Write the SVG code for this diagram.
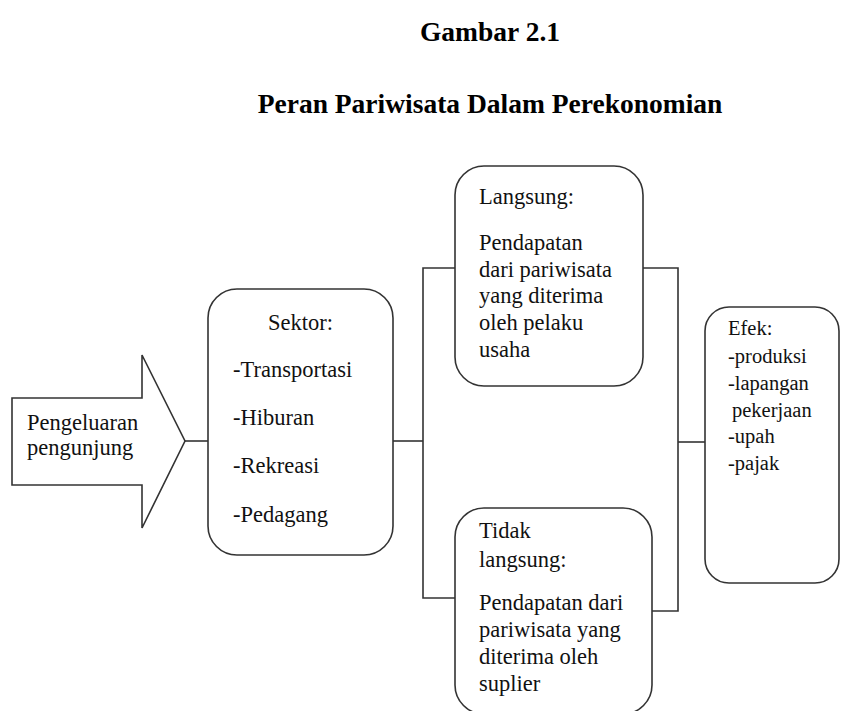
<svg xmlns="http://www.w3.org/2000/svg" width="841" height="711" viewBox="0 0 841 711">
<style>
.t{font-family:'Liberation Serif',Tinos,'Times New Roman','DejaVu Serif',serif;font-size:22.5px;fill:#111}
.e{font-family:'Liberation Serif',Tinos,'Times New Roman','DejaVu Serif',serif;font-size:20.5px;fill:#111}
.h{font-family:'Liberation Serif',Tinos,'Times New Roman','DejaVu Serif',serif;font-size:27.5px;font-weight:bold;fill:#000;text-anchor:middle}
.s{fill:#fff;stroke:#333;stroke-width:1.6}
.c{fill:none;stroke:#333;stroke-width:1.6}
</style>
<rect width="841" height="711" fill="#fff"/>
<text class="h" x="490" y="41">Gambar 2.1</text>
<text class="h" x="490" y="113">Peran Pariwisata Dalam Perekonomian</text>
<g id="connectors">
<line class="c" x1="185" y1="441" x2="208" y2="441"/>
<line class="c" x1="393" y1="441" x2="423" y2="441"/>
<polyline class="c" points="455,268 423,268 423,598 455,598"/>
<polyline class="c" points="643,268 678,268 678,611 652,611"/>
<line class="c" x1="678" y1="442" x2="705" y2="442"/>
</g>
<g id="pengeluaran">
<polygon class="s" points="12,398 142,398 142,355 185,441 142,528 142,485 12,485"/>
<text class="t" x="27" y="430">Pengeluaran</text>
<text class="t" x="27" y="455">pengunjung</text>
</g>
<g id="sektor">
<rect class="s" x="208" y="289" width="185" height="266" rx="29" ry="29"/>
<text class="t" x="300.5" y="330" text-anchor="middle">Sektor:</text>
<text class="t" x="233" y="377">-Transportasi</text>
<text class="t" x="233" y="425">-Hiburan</text>
<text class="t" x="233" y="473">-Rekreasi</text>
<text class="t" x="233" y="522">-Pedagang</text>
</g>
<g id="langsung">
<rect class="s" x="455" y="166" width="188" height="220" rx="29" ry="29"/>
<text class="t" x="479" y="204">Langsung:</text>
<text class="t" x="479" y="250">Pendapatan</text>
<text class="t" x="479" y="277">dari pariwisata</text>
<text class="t" x="479" y="303">yang diterima</text>
<text class="t" x="479" y="330">oleh pelaku</text>
<text class="t" x="479" y="357">usaha</text>
</g>
<g id="tidak-langsung">
<rect class="s" x="455" y="508" width="197" height="206" rx="29" ry="29"/>
<text class="t" x="479" y="538">Tidak</text>
<text class="t" x="479" y="567">langsung:</text>
<text class="t" x="479" y="610">Pendapatan dari</text>
<text class="t" x="479" y="637">pariwisata yang</text>
<text class="t" x="479" y="664">diterima oleh</text>
<text class="t" x="479" y="691">suplier</text>
</g>
<g id="efek">
<rect class="s" x="705" y="307" width="134" height="276" rx="24" ry="24"/>
<text class="e" x="728" y="335">Efek:</text>
<text class="e" x="728" y="363">-produksi</text>
<text class="e" x="728" y="390">-lapangan</text>
<text class="e" x="732" y="417">pekerjaan</text>
<text class="e" x="728" y="443">-upah</text>
<text class="e" x="728" y="470">-pajak</text>
</g>
</svg>
